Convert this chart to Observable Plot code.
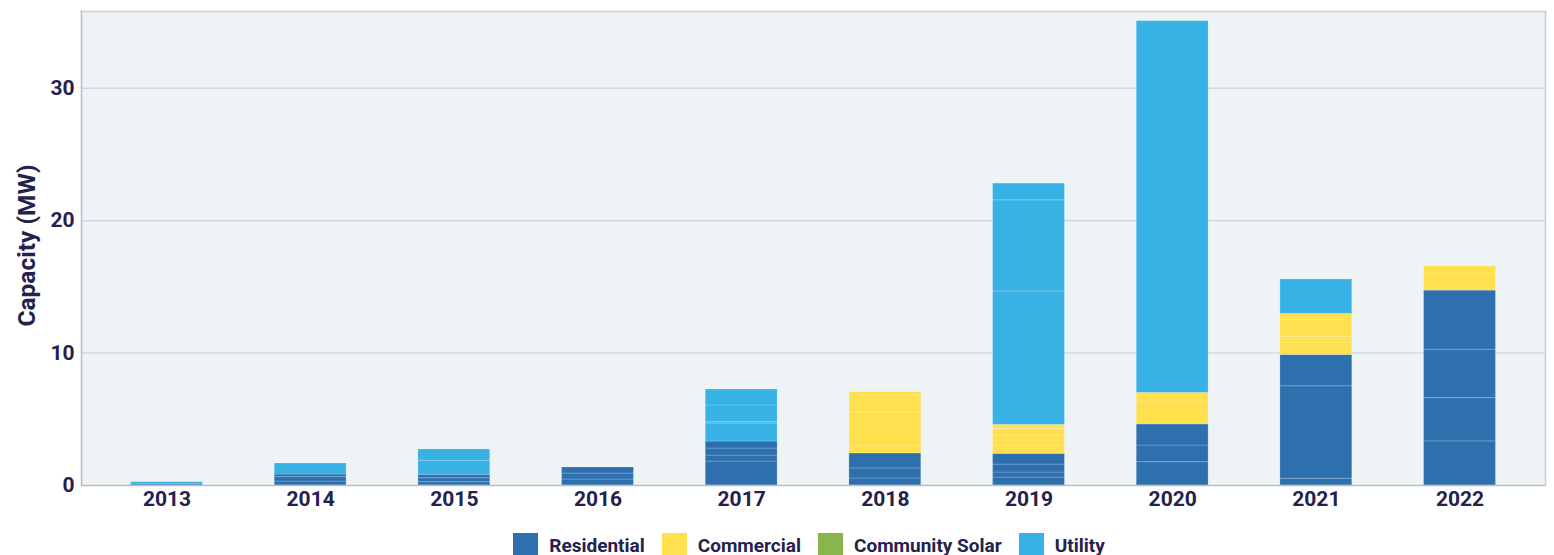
<!DOCTYPE html>
<html>
<head>
<meta charset="utf-8">
<script src="https://cdn.jsdelivr.net/npm/d3@7"></script>
<script src="https://cdn.jsdelivr.net/npm/@observablehq/plot@0.6"></script>
<style>
  html, body { margin: 0; padding: 0; background: #fff; }
  body { width: 1554px; height: 555px; overflow: hidden; font-family: Roboto, "Noto Sans", sans-serif; }
  #legend { display: flex; justify-content: center; align-items: center; margin-top: 7px; padding-left: 64px; font: 700 19px Roboto, sans-serif; color: #24214d; line-height: 25px; }
  #legend .item { display: flex; align-items: center; margin: 0 8.5px; }
  #legend .sw { width: 25px; height: 25px; margin-right: 11px; }
</style>
</head>
<body>
<div id="chart"></div>
<div id="legend"></div>
<script>
// Years (x categories)
const years = ["2013","2014","2015","2016","2017","2018","2019","2020","2021","2022"];
const categories = ["Residential","Commercial","Community Solar","Utility"];
const colors = ["#2e70ae","#ffe04f","#8ab54c","#38b2e4"];
const yTicks = [0, 10, 20, 30];

// Segment values (MW) per year, stacked bottom to top, one array per category
const residential = [
  [0.08],
  [0.3, 0.33, 0.2],
  [0.25, 0.3, 0.26],
  [0.45, 0.45, 0.46],
  [1.81, 0.45, 0.53, 0.53],
  [0.53, 0.76, 1.13],
  [0.6, 0.38, 0.6, 0.81],
  [1.76, 1.26, 1.59],
  [0.51, 6.98, 2.37],
  [3.33, 3.27, 3.66, 4.46]
];
const commercial = [
  [], [], [], [], [],
  [0.53, 2.59, 1.26, 0.25],
  [0.63, 0.76, 0.5, 0.3],
  [1.66, 0.73],
  [0.94, 0.42, 1.26, 0.48],
  [1.28, 0.55]
];
const communitySolar = [[], [], [], [], [], [], [], [], [], []];
const utility = [
  [0.17],
  [0.83],
  [1.06, 0.85],
  [],
  [1.36, 0.1, 1.26, 1.21],
  [],
  [10.08, 6.88, 1.26],
  [28.07],
  [2.6],
  []
];

const series = [residential, commercial, communitySolar, utility];
const rows = [];
years.forEach((yr, i) => {
  series.forEach((s, c) => {
    s[i].forEach((v, k) => rows.push({year: yr, category: categories[c], value: v, seg: `${c}-${k}`}));
  });
});

const textColor = "#24214d";
const chart = Plot.plot({
  width: 1554,
  height: 526,
  marginTop: 11,
  marginBottom: 41,
  marginLeft: 81,
  marginRight: 9,
  style: {fontFamily: "Roboto, sans-serif", fontWeight: 700, fontSize: "21px", color: textColor, background: "#fff"},
  x: {domain: years, paddingInner: 0.5, paddingOuter: 0.345, round: false},
  y: {domain: [0, 35.8]},
  color: {domain: categories, range: colors},
  marks: [
    Plot.frame({fill: "#eef3f6", stroke: null}),
    Plot.ruleY(yTicks.filter(d => d > 0), {stroke: "#d3d8dc", strokeWidth: 1.5}),
    Plot.barY(rows, {x: "year", y: "value", fill: "category", stroke: "#ffffff", strokeOpacity: 0.18, strokeWidth: 1}),
    Plot.ruleY([0], {stroke: "#b9bec4", strokeWidth: 1.5}),
    Plot.frame({anchor: "top", stroke: "#c9ced3", strokeWidth: 1.5}),
    Plot.frame({anchor: "left", stroke: "#b9bec4", strokeWidth: 1.5}),
    Plot.frame({anchor: "right", stroke: "#c9ced3", strokeWidth: 1.5}),
    Plot.axisX({tickSize: 0, tickPadding: 6, fontSize: 21, fill: textColor, label: null}),
    Plot.axisY({ticks: yTicks, tickSize: 0, tickPadding: 7, fontSize: 21, fill: textColor, label: null}),
    Plot.text(["Capacity (MW)"], {frameAnchor: "left", dx: -54, dy: -3, rotate: -90, textAnchor: "middle", fontSize: 24.5, fontWeight: 700, fill: textColor})
  ]
});
document.getElementById("chart").appendChild(chart);

const legend = document.getElementById("legend");
categories.forEach((c, i) => {
  const item = document.createElement("div");
  item.className = "item";
  const sw = document.createElement("span");
  sw.className = "sw";
  sw.style.background = colors[i];
  const t = document.createElement("span");
  t.textContent = c;
  item.appendChild(sw);
  item.appendChild(t);
  legend.appendChild(item);
});
</script>
</body>
</html>
